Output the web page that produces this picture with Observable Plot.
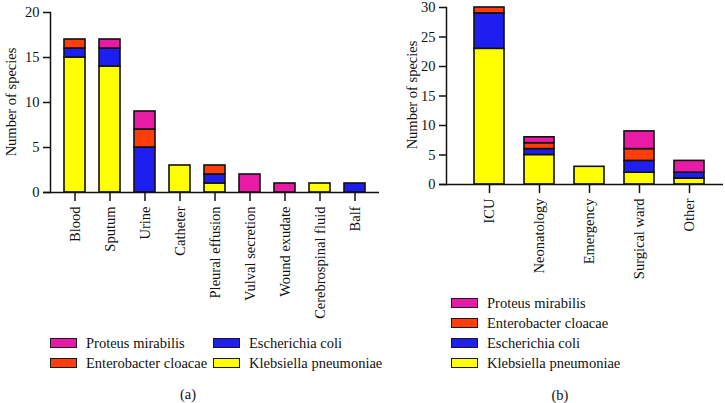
<!DOCTYPE html>
<html><head><meta charset="utf-8">
<script src="https://cdn.jsdelivr.net/npm/d3@7"></script>
<script src="https://cdn.jsdelivr.net/npm/@observablehq/plot@0.6"></script>
<style>
  html,body{margin:0;padding:0;background:#fff;}
  #root{position:relative;width:725px;height:403px;overflow:hidden;font-family:"Liberation Serif","DejaVu Serif",serif;color:#111;}
  .panel{position:absolute;top:0;}
  .ytitle{position:absolute;font-size:14.5px;white-space:nowrap;transform:translate(-50%,-50%) rotate(-90deg);}
  .leg{position:absolute;font-size:14.5px;white-space:nowrap;display:flex;align-items:center;}
  .sw{width:25px;height:8px;border:1.5px solid #1a1a1a;margin-right:9px;}
  .cap{position:absolute;font-size:14.5px;transform:translate(-50%,-50%);}
</style>
</head><body><div id="root"></div>
<script>
// Species (stack order bottom -> top)
const species = ["Klebsiella pneumoniae", "Escherichia coli", "Enterobacter cloacae", "Proteus mirabilis"];
const speciesColors = ["#ffff00", "#1e1ef0", "#ff3d0a", "#e81aa6"];

// Panel (a): specimen sources
const sites = ["Blood", "Sputum", "Urine", "Catheter", "Pleural effusion", "Vulval secretion", "Wound exudate", "Cerebrospinal fluid", "Balf"];
const kpA = [15, 14, 0, 3, 1, 0, 0, 1, 0];
const ecA = [1, 2, 5, 0, 1, 0, 0, 0, 1];
const enA = [1, 0, 2, 0, 1, 0, 0, 0, 0];
const pmA = [0, 1, 2, 0, 0, 2, 1, 0, 0];
const ticksA = [0, 5, 10, 15, 20];

// Panel (b): wards
const wards = ["ICU", "Neonatology", "Emergency", "Surgical ward", "Other"];
const kpB = [23, 5, 3, 2, 1];
const ecB = [6, 1, 0, 2, 1];
const enB = [1, 1, 0, 2, 0];
const pmB = [0, 1, 0, 3, 2];
const ticksB = [0, 5, 10, 15, 20, 25, 30];

function rows(cats, series) {
  const out = [];
  cats.forEach((c, i) => series.forEach((s, j) => out.push({cat: c, species: species[j], value: s[i]})));
  return out;
}

const ink = "#111";
const root = document.getElementById("root");

function makePanel({cats, data, ticks, ymax, width, height, mLeft, mTop, mBottom, mRight, align, pInner, pOuter}) {
  return Plot.plot({
    width, height,
    marginLeft: mLeft, marginTop: mTop, marginBottom: mBottom, marginRight: mRight,
    style: {fontFamily: '"Liberation Serif", serif', fontSize: "14px", color: ink, background: "transparent", overflow: "visible"},
    x: {domain: cats, paddingInner: pInner, paddingOuter: pOuter, align},
    y: {domain: [0, ymax]},
    color: {domain: species, range: speciesColors},
    marks: [
      Plot.barY(data, Plot.stackY({x: "cat", y: "value", fill: "species", order: species, stroke: ink, strokeWidth: 1.6})),
      Plot.axisY({ticks, tickSize: 7, tickPadding: 4, label: null, stroke: ink, strokeWidth: 1.5, fontSize: 14.5, fill: ink}),
      Plot.axisX({tickSize: 9, tickPadding: 5, tickRotate: -90, label: null, stroke: ink, strokeWidth: 1.5, fontSize: 14.5, fill: ink}),
      Plot.frame({anchor: "left", stroke: ink, strokeWidth: 1.5}),
      Plot.ruleY([0], {stroke: ink, strokeWidth: 1.5, insetLeft: -7})
    ]
  });
}

// Panel (a)
const pa = makePanel({cats: sites, data: rows(sites, [kpA, ecA, enA, pmA]), ticks: ticksA, ymax: 20,
  width: 380, height: 320, mLeft: 50, mTop: 12, mBottom: 128, mRight: 1, pInner: 0.4, pOuter: 0.37, align: 0.5});
const da = document.createElement("div"); da.className = "panel"; da.style.left = "0px"; da.appendChild(pa); root.appendChild(da);

// Panel (b)
const pb = makePanel({cats: wards, data: rows(wards, [kpB, ecB, enB, pmB]), ticks: ticksB, ymax: 30,
  width: 345, height: 320, mLeft: 66, mTop: 7, mBottom: 136, mRight: 2, pInner: 0.41, pOuter: 0.434, align: 0.59});
const db = document.createElement("div"); db.className = "panel"; db.style.left = "380px"; db.appendChild(pb); root.appendChild(db);

// y titles
function addText(cls, txt, x, y) {
  const d = document.createElement("div"); d.className = cls; d.textContent = txt;
  d.style.left = x + "px"; d.style.top = y + "px"; root.appendChild(d);
}
addText("ytitle", "Number of species", 11, 102);
addText("ytitle", "Number of species", 412, 95);

// legends
function addLegend(name, x, y) {
  const i = species.indexOf(name);
  const d = document.createElement("div"); d.className = "leg";
  d.style.left = x + "px"; d.style.top = (y - 9) + "px"; d.style.height = "18px";
  const s = document.createElement("div"); s.className = "sw"; s.style.background = speciesColors[i];
  const t = document.createElement("span"); t.textContent = name;
  d.appendChild(s); d.appendChild(t); root.appendChild(d);
}
addLegend("Proteus mirabilis", 50, 343);
addLegend("Enterobacter cloacae", 50, 363);
addLegend("Escherichia coli", 213, 343);
addLegend("Klebsiella pneumoniae", 213, 363);

addLegend("Proteus mirabilis", 451, 303);
addLegend("Enterobacter cloacae", 451, 323);
addLegend("Escherichia coli", 451, 343);
addLegend("Klebsiella pneumoniae", 451, 363);

addText("cap", "(a)", 188, 394);
addText("cap", "(b)", 560, 395);
</script></body></html>
